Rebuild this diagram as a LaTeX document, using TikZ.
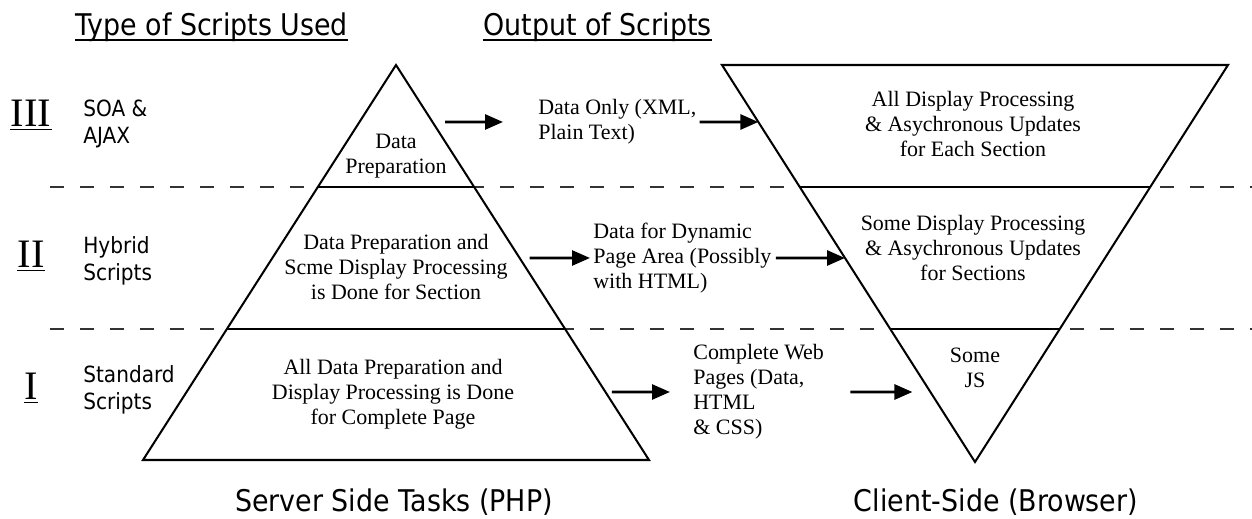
\documentclass[tikz,border=0pt]{standalone}
\usepackage{fontspec}
\setmainfont{Liberation Serif}
\newfontfamily\headfont[FakeStretch=0.9]{DejaVu Sans}
\usetikzlibrary{arrows.meta,calc}

\begin{document}
\begin{tikzpicture}[
    x=0.02cm, y=-0.02cm,
    tri/.style={draw, line width=1.15pt, line join=miter, fill=white},
    level/.style={draw, line width=1.15pt},
    sep/.style={draw=black!80, line width=0.6pt, dash pattern=on 0.28cm off 0.32cm},
    arrow/.style={-{Triangle[length=0.36cm, width=0.3cm]}, line width=1.6pt},
    head/.style={font=\headfont\fontsize{17}{20}\selectfont, inner sep=0pt, anchor=base west},
    side/.style={font=\headfont\fontsize{12.7}{15.3}\selectfont, align=left, inner sep=0pt, anchor=west},
    txt/.style={font=\fontsize{12.5}{14.2}\selectfont, align=center, inner sep=0pt},
    outtxt/.style={txt, align=left, anchor=west},
    roman/.style={font=\fontsize{23}{26}\selectfont, inner sep=0pt, anchor=base},
    uline/.style={line width=0.85pt}
  ]
    \useasboundingbox (0,0) rectangle (1252,519);

    \coordinate (ptop) at (396,65);
    \coordinate (pbl) at (143,460);
    \coordinate (pbr) at (649,460);
    \coordinate (ctl) at (722,65);
    \coordinate (ctr) at (1228,65);
    \coordinate (cbot) at (975,462);

    \draw[sep] (50,187) -- (1252,187);
    \draw[sep] (50,329) -- (1252,329);

    \draw[tri] (ptop) -- (pbr) -- (pbl) -- cycle;
    \draw[tri] (ctl) -- (ctr) -- (cbot) -- cycle;
    \draw[level] ($(ptop)!0.309!(pbl)$) -- ($(ptop)!0.309!(pbr)$);
    \draw[level] ($(ptop)!0.668!(pbl)$) -- ($(ptop)!0.668!(pbr)$);
    \draw[level] ($(ctl)!0.307!(cbot)$) -- ($(ctr)!0.307!(cbot)$);
    \draw[level] ($(ctl)!0.665!(cbot)$) -- ($(ctr)!0.665!(cbot)$);

    \node[head] (hdtype) at (75,36) {Type of Scripts Used};
    \node[head] (hdout) at (483,36) {Output of Scripts};
    \draw[uline] ([yshift=-0.08cm]hdtype.base west) -- ([yshift=-0.08cm]hdtype.base east);
    \draw[uline] ([yshift=-0.08cm]hdout.base west) -- ([yshift=-0.08cm]hdout.base east);

    \node[roman] (rom3) at (31,127) {III};
    \node[roman] (rom2) at (31,268) {II};
    \node[roman] (rom1) at (31,400) {I};
    \foreach \r in {rom3,rom2,rom1}
      \draw[line width=1.1pt] ([yshift=-0.05cm]\r.base west) -- ([yshift=-0.05cm]\r.base east);

    \node[side] (lvl3) at (83,124) {SOA \&\\AJAX};
    \node[side] (lvl2) at (83,261) {Hybrid\\Scripts};
    \node[side] (lvl1) at (83,390) {Standard\\Scripts};

    \node[txt] (dprep) at (396,156) {Data\\Preparation};
    \node[txt] (dsome) at (396,267) {Data Preparation and\\Scme Display Processing\\is Done for Section};
    \node[txt] (dall) at (393,394) {All Data Preparation and\\Display Processing is Done\\for Complete Page};

    \node[outtxt] (out3) at (538,122) {Data Only (XML,\\Plain Text)};
    \node[outtxt] (out2) at (593,258) {Data for Dynamic\\Page Area (Possibly\\with HTML)};
    \node[outtxt] (out1) at (693,392) {Complete Web\\Pages (Data,\\HTML\\\& CSS)};

    \node[txt] (cl3) at (973,124) {All Display Processing\\\& Asychronous Updates\\for Each Section};
    \node[txt] (cl2) at (973,248) {Some Display Processing\\\& Asychronous Updates\\for Sections};
    \node[txt] (cl1) at (975,368) {Some\\JS};

    \node[head, anchor=base] (server) at (394,512) {Server Side Tasks (PHP)};
    \node[head, anchor=base] (client) at (996,512) {Client-Side (Browser)};

    \draw[arrow, shorten <=0.25cm, shorten >=0.7cm] (intersection of out3.west--out3.east and ptop--pbr) -- (out3.west);
    \draw[arrow, shorten <=0.2cm, shorten >=0.06cm] (intersection of out2.west--out2.east and ptop--pbr) -- (out2.west);
    \draw[arrow, shorten <=0.13cm, shorten >=0.46cm] (intersection of out1.west--out1.east and ptop--pbr) -- (out1.west);
    \draw[arrow, shorten <=0.06cm] (out3.east) -- (intersection of out3.west--out3.east and ctl--cbot);
    \draw[arrow, shorten <=0.08cm] (out2.east) -- (intersection of out2.west--out2.east and ctl--cbot);
    \draw[arrow, shorten <=0.52cm, shorten >=0.36cm] (out1.east) -- (intersection of out1.west--out1.east and ctl--cbot);
\end{tikzpicture}
\end{document}
